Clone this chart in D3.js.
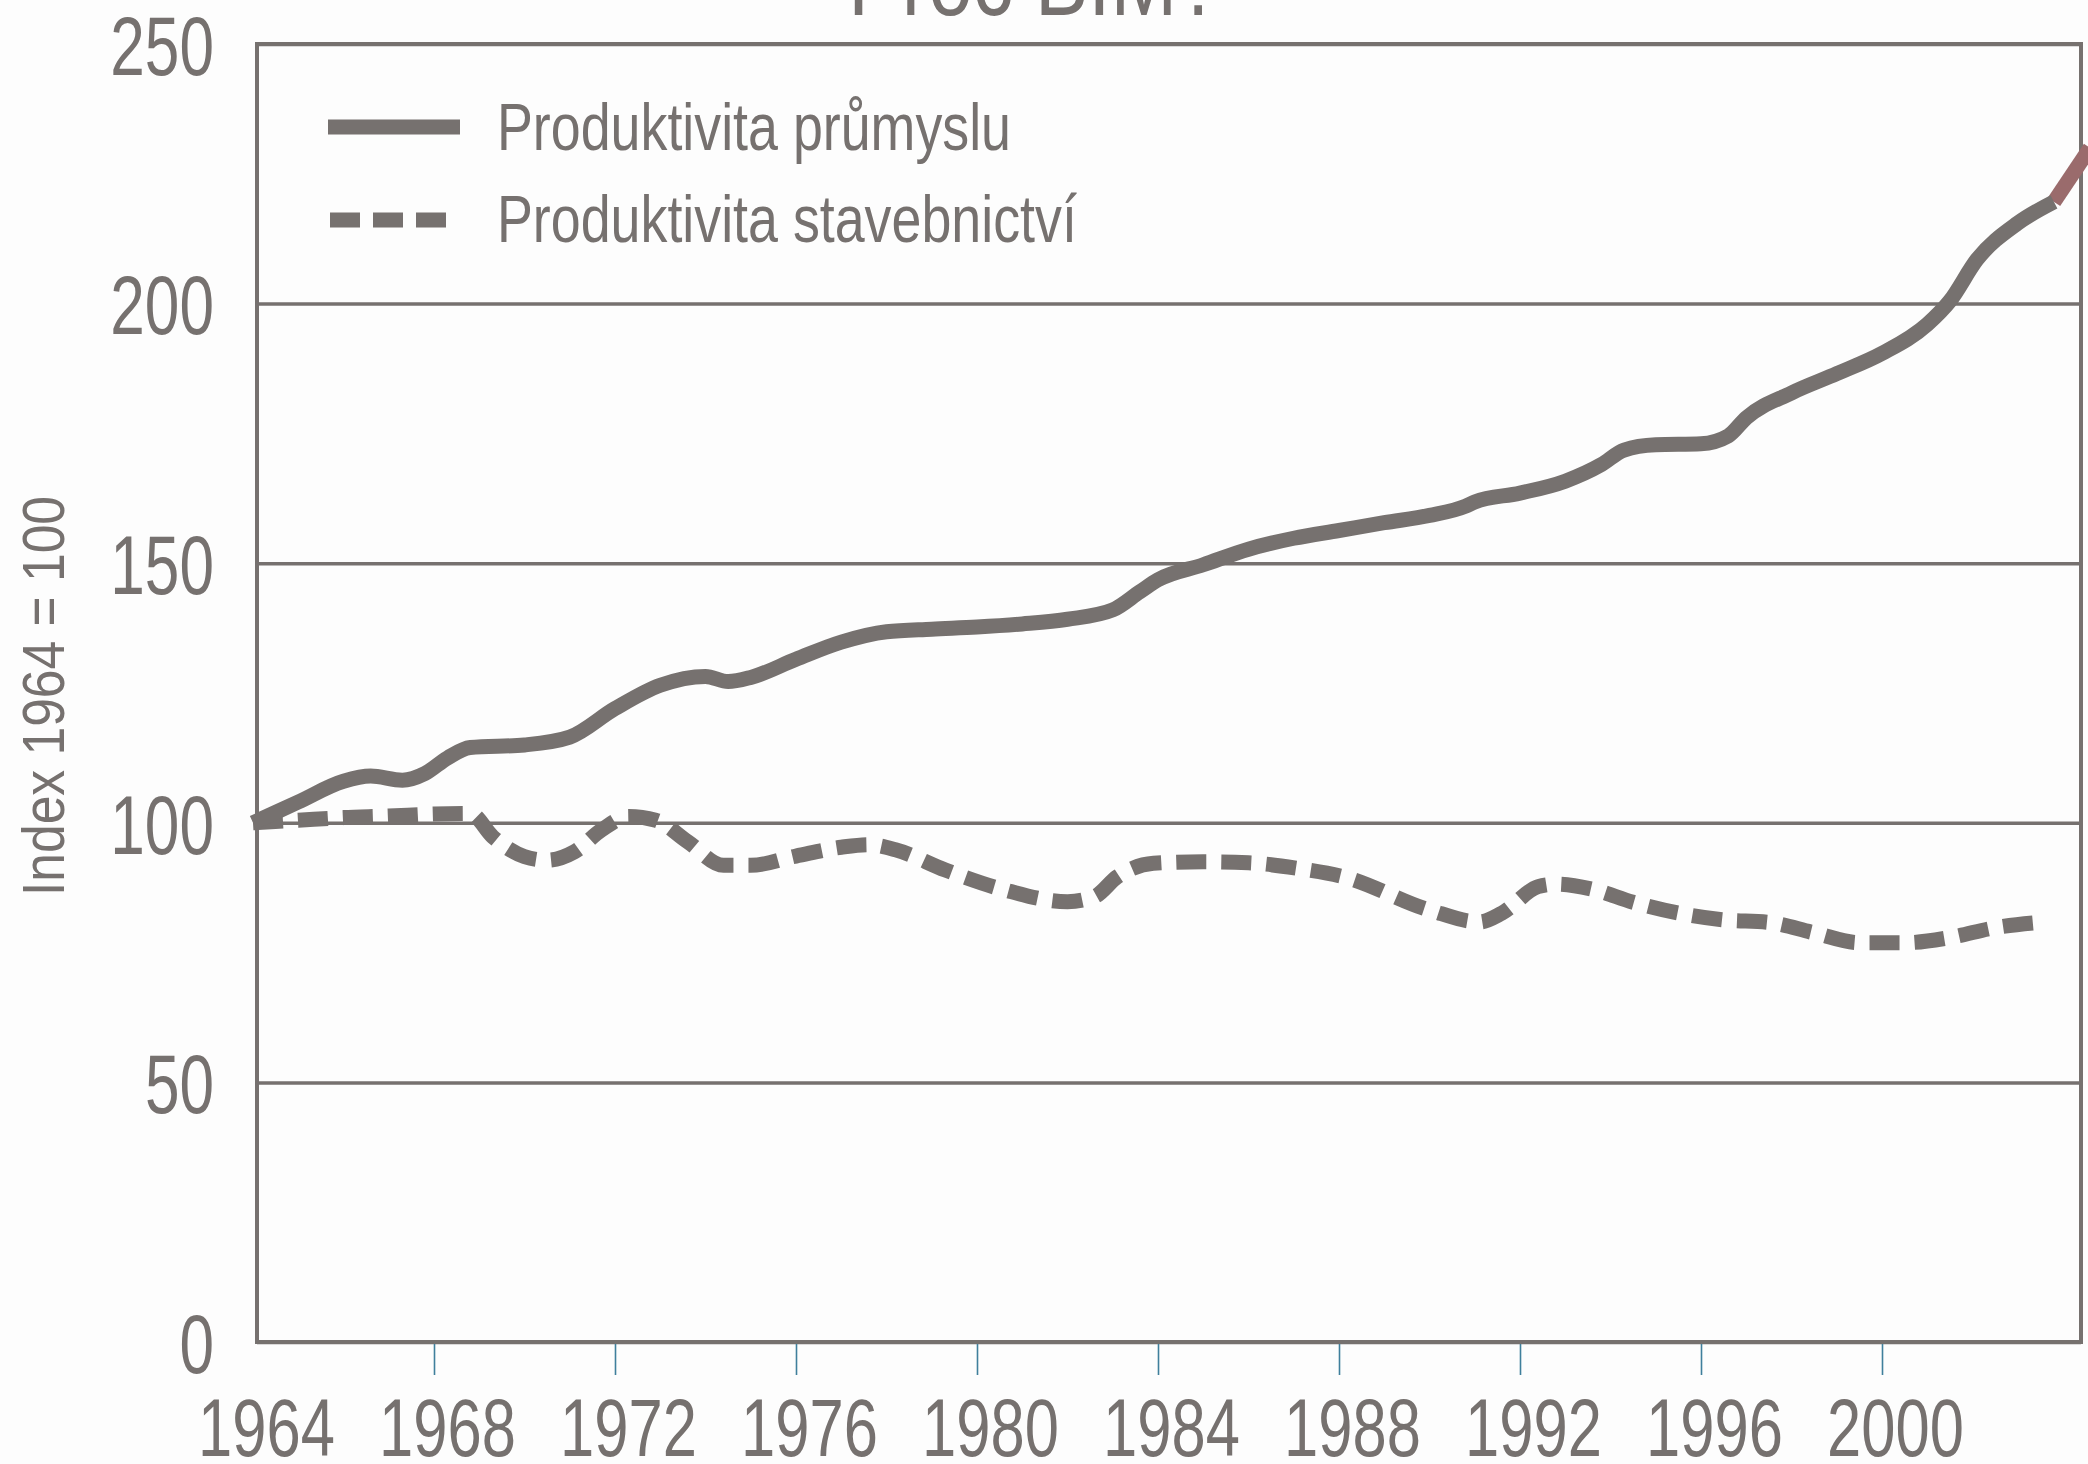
<!DOCTYPE html>
<html>
<head>
<meta charset="utf-8">
<script src="https://cdn.jsdelivr.net/npm/d3@7"></script>
<style>
  html, body { margin: 0; padding: 0; background: #fdfdfd; }
  svg { display: block; }
  text { font-family: "Liberation Sans", Arial, sans-serif; fill: #76716f; }
</style>
</head>
<body>
<svg id="chart"></svg>
<script>
// data
var yearTicks = [1964, 1968, 1972, 1976, 1980, 1984, 1988, 1992, 1996, 2000];
var valueTicks = [0, 50, 100, 150, 200, 250];

var seriesNames = ['Produktivita průmyslu', 'Produktivita stavebnictví'];

var industryYears = [1964, 1965, 1966, 1966.6, 1967.3, 1967.8, 1968.3, 1968.8, 1970, 1971,
  1972, 1973, 1974, 1974.5, 1975, 1976, 1977, 1978, 1979, 1980,
  1981, 1982, 1983, 1983.6, 1984, 1985, 1986, 1987, 1988, 1989,
  1990, 1990.8, 1991, 1992, 1993, 1993.8, 1994.3, 1995, 1996, 1996.6,
  1997, 1998, 1999, 2000, 2001, 2001.5, 2002.1, 2003, 2003.8];
var industryValues = [100, 104, 108, 109, 108.2, 109.5, 112.5, 114.5, 115, 116.5,
  122, 126.5, 128.2, 127.2, 128, 131.5, 134.8, 136.8, 137.3, 137.7,
  138.3, 139.2, 141, 144.5, 146.8, 149.7, 152.7, 154.8, 156.3, 157.8,
  159.2, 161, 161.8, 163.5, 165.8, 169, 171.8, 172.8, 173, 174.5,
  178, 182.8, 186.5, 190.4, 196, 200.5, 208.5, 215.5, 219.6];

// last bit of the industry line, drawn in a reddish tone
var extraYears = [2003.8, 2004.6];
var extraValues = [219.6, 230];

var constructionYears = [1964, 1965, 1966, 1967, 1968, 1968.8, 1969.3, 1970, 1970.5, 1971.1,
  1971.7, 1972.3, 1972.9, 1973.6, 1974.4, 1975, 1976, 1977, 1977.6, 1978.2,
  1979.3, 1980.6, 1982, 1982.6, 1983.1, 1983.9, 1985, 1986, 1987.1, 1988.1,
  1990, 1991.1, 1991.6, 1992.4, 1992.8, 1993.6, 1994.5, 1995.5, 1996.5, 1997.5,
  1998.5, 1999.5, 2000.5, 2001.5, 2002.5, 2003.6];
var constructionValues = [100, 100.5, 101, 101.3, 101.7, 101.8, 97.3, 93.5, 92.8, 94.4,
  98.6, 101.2, 100.5, 96.4, 91.8, 91.8, 93.6, 95.3, 95.8, 94.8,
  90.9, 87.1, 84.8, 85.8, 89.6, 92.2, 92.5, 92.3, 91.2, 89.6,
  83.2, 80.9, 82.6, 87.7, 88.2, 87.2, 84.7, 82.6, 81.3, 80.8,
  78.8, 76.9, 76.9, 77.9, 79.8, 80.9];

var W = 2088, H = 1464;
var plotL = 257, plotR = 2081, plotT = 44, plotB = 1342;
var grey = '#76716f';

var svg = d3.select('#chart').attr('width', W).attr('height', H);
svg.append('rect').attr('width', W).attr('height', H).attr('fill', '#fdfdfd');

var x = d3.scaleLinear().domain([1964, 2000]).range([253, 1882]);
var y = d3.scaleLinear().domain([0, 250]).range([plotB, plotT]);

// title, cut off at the top edge
svg.append('g')
  .attr('transform', 'translate(1035,15) scale(0.8,1)')
  .append('text')
  .attr('text-anchor', 'middle')
  .style('font-size', '100px')
  .text('Proč BIM?');

// grid + y labels
var yAxis = svg.append('g')
  .attr('transform', 'translate(' + plotL + ',0)')
  .call(d3.axisLeft(y).tickValues(valueTicks).tickSize(-(plotR - plotL)).tickPadding(0));
yAxis.select('.domain').remove();
yAxis.selectAll('line').attr('stroke', grey).attr('stroke-width', 3.5);
yAxis.selectAll('text')
  .attr('x', -43 / 0.74)
  .attr('dy', '0.36em')
  .attr('transform', 'scale(0.74,1)')
  .attr('fill', grey)
  .style('font-size', '84px')
  .style('font-family', '"Liberation Sans", Arial, sans-serif');

// x axis ticks + labels
var xAxis = svg.append('g')
  .attr('transform', 'translate(0,' + plotB + ')')
  .call(d3.axisBottom(x).tickValues(yearTicks).tickFormat(d3.format('d')).tickSize(33));
xAxis.select('.domain').remove();
xAxis.selectAll('line').attr('stroke', '#3f7f9c').attr('stroke-width', 1.6);
xAxis.selectAll('.tick').filter(function (d) { return d === 1964; }).select('line').remove();
xAxis.selectAll('text')
  .attr('y', 114)
  .attr('dy', 0)
  .attr('x', 13 / 0.75)
  .attr('transform', 'scale(0.75,1)')
  .attr('fill', grey)
  .style('font-size', '82px')
  .style('font-family', '"Liberation Sans", Arial, sans-serif');

// frame
svg.append('rect')
  .attr('x', plotL).attr('y', plotT)
  .attr('width', plotR - plotL).attr('height', plotB - plotT)
  .attr('fill', 'none')
  .attr('stroke', grey)
  .attr('stroke-width', 4);

// y axis title
svg.append('text')
  .attr('transform', 'translate(64,696) rotate(-90) scale(0.86,1)')
  .attr('text-anchor', 'middle')
  .style('font-size', '60px')
  .text('Index 1964 = 100');

var line = d3.line()
  .x(function (d) { return x(d[0]); })
  .y(function (d) { return y(d[1]); })
  .curve(d3.curveMonotoneX);

var industry = d3.zip(industryYears, industryValues);
var construction = d3.zip(constructionYears, constructionValues);
var extra = d3.zip(extraYears, extraValues);

svg.append('path')
  .attr('d', line(extra))
  .attr('fill', 'none')
  .attr('stroke', '#9a6b6c')
  .attr('stroke-width', 15);

svg.append('path')
  .attr('d', line(construction))
  .attr('fill', 'none')
  .attr('stroke', grey)
  .attr('stroke-width', 15)
  .attr('stroke-dasharray', '30,15');

svg.append('path')
  .attr('d', line(industry))
  .attr('fill', 'none')
  .attr('stroke', grey)
  .attr('stroke-width', 15);

// legend
var legend = svg.append('g');
legend.append('line')
  .attr('x1', 328).attr('x2', 460).attr('y1', 127).attr('y2', 127)
  .attr('stroke', grey).attr('stroke-width', 15);
legend.append('line')
  .attr('x1', 330).attr('x2', 446).attr('y1', 220).attr('y2', 220)
  .attr('stroke', grey).attr('stroke-width', 15)
  .attr('stroke-dasharray', '30,13');
legend.selectAll('g.label')
  .data(seriesNames)
  .enter().append('g')
  .attr('class', 'label')
  .attr('transform', function (d, i) { return 'translate(497,' + (150 + i * 92) + ') scale(0.815,1)'; })
  .append('text')
  .style('font-size', '66px')
  .text(function (d) { return d; });
</script>
</body>
</html>
